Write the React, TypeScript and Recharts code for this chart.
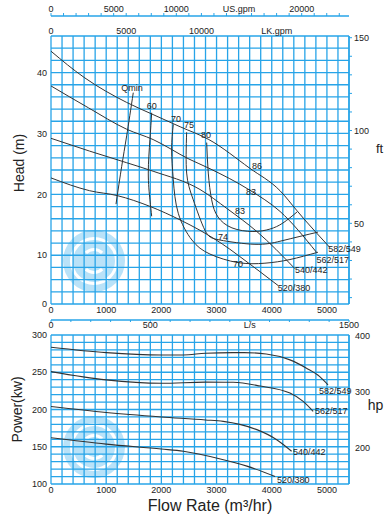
import React from 'react';
import { ComposedChart, Line, XAxis, YAxis, CartesianGrid, ReferenceDot } from 'recharts';

const GRID = '#27a4e8';
const INK = '#333333';
const FONT = '"Liberation Sans", Arial, sans-serif';

// ---------- axis tick values ----------
const FLOW_TICKS = [0, 200, 400, 600, 800, 1000, 1200, 1400, 1600, 1800, 2000, 2200, 2400, 2600, 2800, 3000, 3200, 3400, 3600, 3800, 4000, 4200, 4400, 4600, 4800, 5000, 5200, 5400];
const FLOW_LABELS = [0, 1000, 2000, 3000, 4000, 5000];
const HEAD_M_TICKS = [2, 4, 6, 8, 10, 12, 14, 16, 18, 20, 22, 24, 26, 28, 30, 32, 34, 36, 38, 40, 42, 44, 46];
const HEAD_M_LABELS: Record<number, string> = { 2: '0', 10: '10', 20: '20', 30: '30', 40: '40' };
const HEAD_FT_TICKS = [10, 20, 30, 40, 50, 60, 70, 80, 90, 100, 110, 120, 130, 140, 150];
const HEAD_FT_LABELS = [50, 100, 150];
const LS_TICKS = [0, 100, 200, 300, 400, 500, 600, 700, 800, 900, 1000, 1100, 1200, 1300, 1400, 1500];
const LS_LABELS: Record<number, string> = { 0: '0', 500: '500', 1000: 'L/s', 1500: '1500' };
const US_TICKS = [0, 1000, 2000, 3000, 4000, 5000, 6000, 7000, 8000, 9000, 10000, 11000, 12000, 13000, 14000, 15000, 16000, 17000, 18000, 19000, 20000, 21000, 22000, 23000];
const US_LABELS: Record<number, string> = { 0: '0', 5000: '5000', 10000: '10000', 15000: 'US.gpm', 20000: '20000' };
const LK_TICKS = [0, 5000, 10000, 15000];
const LK_LABELS: Record<number, string> = { 0: '0', 5000: '5000', 10000: '10000', 15000: 'LK.gpm' };
const KW_TICKS = [100, 110, 120, 130, 140, 150, 160, 170, 180, 190, 200, 210, 220, 230, 240, 250, 260, 270, 280, 290, 300];
const KW_LABELS = [100, 150, 200, 250, 300];
const HP_TICKS = [200, 300, 400];

const FLOW_MAX = 5400;
const M_TO_FT = 0.3048;
const KW_PER_HP = 0.7457;
const US_GPM_PER_M3H = 4.4029;
const LK_GPM_PER_M3H = 3.6662;

// ---------- head curves (q m3/h, h m) ----------
const H_582_549 = [
  { q: 0, h: 43.5 }, { q: 600, h: 39.2 }, { q: 1370, h: 35.1 }, { q: 1850, h: 33.1 }, { q: 2340, h: 31.1 },
  { q: 2860, h: 29.0 }, { q: 3600, h: 24.3 }, { q: 4150, h: 20.6 }, { q: 4450, h: 17.4 }, { q: 4600, h: 15.8 },
  { q: 5000, h: 11.8 }, { q: 5050, h: 11.3 },
];
const H_562_517 = [
  { q: 0, h: 37.8 }, { q: 680, h: 34.2 }, { q: 1370, h: 30.7 }, { q: 1850, h: 29.0 }, { q: 2500, h: 25.8 },
  { q: 2860, h: 24.3 }, { q: 3600, h: 20.7 }, { q: 4150, h: 17.2 }, { q: 4810, h: 10.5 },
];
const H_540_442 = [
  { q: 0, h: 29.2 }, { q: 700, h: 27.1 }, { q: 1370, h: 25.2 }, { q: 1850, h: 23.8 }, { q: 2700, h: 20.8 },
  { q: 3200, h: 17.6 }, { q: 3730, h: 13.9 }, { q: 4420, h: 7.8 },
];
const H_520_380 = [
  { q: 0, h: 22.7 }, { q: 700, h: 20.6 }, { q: 1200, h: 19.8 }, { q: 1800, h: 18.0 }, { q: 2340, h: 15.8 },
  { q: 2700, h: 14.1 }, { q: 3240, h: 11.0 }, { q: 3420, h: 9.8 }, { q: 4120, h: 5.0 },
];

// ---------- efficiency / Qmin curves ----------
const E_QMIN = [{ q: 1491, h: 36.7 }, { q: 1371, h: 29.6 }, { q: 1281, h: 24.6 }, { q: 1178, h: 18.4 }];
const E_60 = [{ q: 1824, h: 33.4 }, { q: 1793, h: 29.0 }, { q: 1763, h: 23.5 }, { q: 1793, h: 19.1 }, { q: 1824, h: 16.4 }];
const E_70 = [
  { q: 2216, h: 31.5 }, { q: 2186, h: 27.4 }, { q: 2216, h: 22.4 }, { q: 2306, h: 16.9 }, { q: 2554, h: 12.5 },
  { q: 2880, h: 10.2 }, { q: 3388, h: 8.8 }, { q: 3877, h: 8.7 }, { q: 4330, h: 9.3 }, { q: 4837, h: 10.5 },
];
const E_75 = [
  { q: 2458, h: 30.2 }, { q: 2458, h: 23.5 }, { q: 2578, h: 19.1 }, { q: 2790, h: 14.1 }, { q: 3062, h: 12.5 },
  { q: 3696, h: 11.8 }, { q: 4149, h: 12.3 }, { q: 4511, h: 13.1 }, { q: 4837, h: 13.8 },
];
const E_80 = [
  { q: 2821, h: 28.5 }, { q: 2850, h: 23.5 }, { q: 2911, h: 19.1 }, { q: 3025, h: 16.3 }, { q: 3279, h: 14.5 },
  { q: 3659, h: 13.9 }, { q: 3967, h: 14.3 }, { q: 4203, h: 15.3 }, { q: 4457, h: 17.1 },
];

const EFF_LABELS = [
  { q: 1467, h: 37.4, text: 'Qmin' }, { q: 1824, h: 34.5, text: '60' }, { q: 2264, h: 32.3, text: '70' },
  { q: 2500, h: 31.4, text: '75' }, { q: 2808, h: 29.8, text: '80' }, { q: 3732, h: 24.7, text: '86' },
  { q: 3623, h: 20.4, text: '83' }, { q: 3424, h: 17.2, text: '83' }, { q: 3116, h: 13.0, text: '74' },
  { q: 3388, h: 8.5, text: '70' },
];
const HEAD_CURVE_LABELS = [
  { q: 5024, h: 11.0, text: '582/549' }, { q: 4813, h: 9.3, text: '562/517' },
  { q: 4420, h: 7.6, text: '540/442' }, { q: 4107, h: 4.7, text: '520/380' },
];

// ---------- power curves (q m3/h, p kW) ----------
const P_582_549 = [
  { q: 0, p: 283.5 }, { q: 1000, p: 276.3 }, { q: 2000, p: 273.2 }, { q: 2400, p: 273.2 }, { q: 2800, p: 275.5 },
  { q: 3300, p: 276.3 }, { q: 3500, p: 276.3 }, { q: 3900, p: 274.6 }, { q: 4330, p: 266.6 }, { q: 4630, p: 255.5 },
  { q: 4870, p: 244.2 }, { q: 5020, p: 233.1 },
];
const P_562_517 = [
  { q: 0, p: 250.9 }, { q: 1000, p: 239.8 }, { q: 2000, p: 235.3 }, { q: 2800, p: 236.7 }, { q: 3300, p: 236.5 },
  { q: 3790, p: 231.5 }, { q: 4330, p: 222 }, { q: 4570, p: 210.8 }, { q: 4750, p: 197.4 },
];
const P_540_442 = [
  { q: 0, p: 204 }, { q: 1000, p: 196 }, { q: 2000, p: 190 }, { q: 2800, p: 186 }, { q: 3120, p: 184 },
  { q: 3420, p: 180 }, { q: 3730, p: 173 }, { q: 4090, p: 159.5 }, { q: 4360, p: 144 },
];
const P_520_380 = [
  { q: 0, p: 162 }, { q: 1000, p: 153.5 }, { q: 2000, p: 147 }, { q: 2400, p: 144 }, { q: 3050, p: 134 },
  { q: 3550, p: 124 }, { q: 4060, p: 110 },
];
const POWER_CURVE_LABELS = [
  { q: 4855, p: 225.1, text: '582/549' }, { q: 4783, p: 198.3, text: '562/517' },
  { q: 4384, p: 142.5, text: '540/442' }, { q: 4094, p: 106, text: '520/380' },
];

const tickStyle = { fontSize: 9, fill: '#222', fontFamily: FONT };

const centerText = (text: string) => (props: any) => (
  <text x={props.cx} y={props.cy} textAnchor="middle" dominantBaseline="central" fontSize={9} fill="#222" fontFamily={FONT}>{text}</text>
);
const startText = (text: string) => (props: any) => (
  <text x={props.cx} y={props.cy} textAnchor="start" dominantBaseline="central" fontSize={9} fill="#222" fontFamily={FONT}>{text}</text>
);

const Watermark = ({ left, top }: { left: number; top: number }) => (
  <div style={{ position: 'absolute', left, top, width: 62, height: 62, borderRadius: '50%', background: '#b9e2f8' }}>
    <div style={{ position: 'absolute', left: 7, top: 7, width: 42, height: 42, borderRadius: '50%', border: '3px solid #ffffff' }} />
    <div style={{ position: 'absolute', left: 18, top: 18, width: 20, height: 20, borderRadius: '50%', border: '3px solid #ffffff', borderColor: '#fff transparent #fff transparent' }} />
  </div>
);

// axis ids: "f" = flow (m3/h), "s" = L/s, "g" = LK gpm, "u" = US gpm
const headLine = (data: any[], key: string, type: any = 'monotone') => (
  <Line key={key} data={data} dataKey="h" xAxisId="f" yAxisId="m" type={type} stroke={INK} strokeWidth={1} dot={false} isAnimationActive={false} />
);
const powerLine = (data: any[], key: string) => (
  <Line key={key} data={data} dataKey="p" xAxisId="f" yAxisId="kw" type="monotone" stroke={INK} strokeWidth={1.1} dot={false} isAnimationActive={false} />
);

export default function App() {
  return (
    <div style={{ position: 'absolute', left: 0, top: 0, width: 390, height: 517, background: '#fff', fontFamily: FONT }}>
      <Watermark left={63} top={230} />
      <Watermark left={63} top={416} />
      <div style={{ position: 'absolute', left: 0, top: 0 }}>
        <ComposedChart width={390} height={336} data={H_582_549} margin={{ top: 0, right: 0, bottom: 0, left: 0 }}>
          <CartesianGrid xAxisId="f" yAxisId="m" stroke={GRID} strokeWidth={1.3} />
          <XAxis xAxisId="f" dataKey="q" type="number" domain={[0, FLOW_MAX]} allowDataOverflow ticks={FLOW_TICKS} interval={0}
            tickFormatter={(v: number) => (FLOW_LABELS.includes(v) ? String(v) : '')}
            axisLine={false} tickLine={false} tickSize={0} tickMargin={3} height={16} tick={tickStyle} />
          <XAxis xAxisId="s" dataKey="q" type="number" domain={[0, FLOW_MAX / 3.6]} allowDataOverflow ticks={LS_TICKS} interval={0}
            tickFormatter={(v: number) => LS_LABELS[v] ?? ''}
            axisLine={{ stroke: GRID, strokeWidth: 1.5 }} tickLine={{ stroke: GRID }} tickSize={2} tickMargin={0} height={16} tick={tickStyle} />
          <XAxis xAxisId="g" dataKey="q" orientation="top" type="number" domain={[0, FLOW_MAX * LK_GPM_PER_M3H]} allowDataOverflow ticks={LK_TICKS} interval={0}
            tickFormatter={(v: number) => LK_LABELS[v] ?? ''}
            axisLine={false} tickLine={false} tickSize={0} tickMargin={2} height={20} tick={tickStyle} />
          <XAxis xAxisId="u" dataKey="q" orientation="top" type="number" domain={[0, FLOW_MAX * US_GPM_PER_M3H]} allowDataOverflow ticks={US_TICKS} interval={0}
            tickFormatter={(v: number) => US_LABELS[v] ?? ''}
            axisLine={{ stroke: GRID, strokeWidth: 1.5 }} tickLine={{ stroke: GRID }} tickSize={3} tickMargin={1} height={16} tick={tickStyle} />
          <YAxis yAxisId="m" dataKey="h" type="number" domain={[2, 46]} allowDataOverflow ticks={HEAD_M_TICKS} interval={0}
            tickFormatter={(v: number) => HEAD_M_LABELS[v] ?? ''}
            axisLine={false} tickLine={false} tickSize={0} tickMargin={4} width={51} tick={tickStyle}
            label={{ value: 'Head (m)', angle: -90, position: 'center', dx: -6, dy: -7, fontSize: 14, fill: '#222', fontFamily: FONT }} />
          <YAxis yAxisId="ft" orientation="right" type="number" domain={[2 / M_TO_FT, 46 / M_TO_FT]} allowDataOverflow ticks={HEAD_FT_TICKS} interval={0}
            tickFormatter={(v: number) => (HEAD_FT_LABELS.includes(v) ? String(v) : '')}
            axisLine={{ stroke: GRID, strokeWidth: 1.5 }} tickLine={{ stroke: GRID }} tickSize={3} tickMargin={2} width={41} tick={tickStyle}
            label={{ value: 'ft', position: 'center', dx: 10, dy: -22, fontSize: 13, fill: '#222', fontFamily: FONT }} />

          {headLine(H_582_549, 'h582')}
          {headLine(H_562_517, 'h562')}
          {headLine(H_540_442, 'h540')}
          {headLine(H_520_380, 'h520')}
          {headLine(E_QMIN, 'eq', 'natural')}
          {headLine(E_60, 'e60', 'natural')}
          {headLine(E_70, 'e70', 'natural')}
          {headLine(E_75, 'e75', 'natural')}
          {headLine(E_80, 'e80', 'natural')}

          {EFF_LABELS.map((l, i) => (
            <ReferenceDot key={'el' + i} xAxisId="f" yAxisId="m" x={l.q} y={l.h} r={0} shape={centerText(l.text)} ifOverflow="visible" />
          ))}
          {HEAD_CURVE_LABELS.map((l, i) => (
            <ReferenceDot key={'hl' + i} xAxisId="f" yAxisId="m" x={l.q} y={l.h} r={0} shape={startText(l.text)} ifOverflow="visible" />
          ))}
        </ComposedChart>
      </div>
      <div style={{ position: 'absolute', left: 0, top: 330 }}>
        <ComposedChart width={390} height={187} margin={{ top: 5, right: 0, bottom: 0, left: 0 }}>
          <CartesianGrid xAxisId="f" yAxisId="kw" stroke={GRID} strokeWidth={1.3} />
          <XAxis xAxisId="f" dataKey="q" type="number" domain={[0, FLOW_MAX]} allowDataOverflow ticks={FLOW_TICKS} interval={0}
            tickFormatter={(v: number) => (FLOW_LABELS.includes(v) ? String(v) : '')}
            axisLine={false} tickLine={false} tickSize={0} tickMargin={3} height={33} tick={tickStyle}
            label={{ value: 'Flow Rate (m³/hr)', position: 'center', dx: 10, dy: 5, fontSize: 16, fill: '#222', fontFamily: FONT }} />
          <YAxis yAxisId="kw" dataKey="p" type="number" domain={[100, 300]} allowDataOverflow ticks={KW_TICKS} interval={0}
            tickFormatter={(v: number) => (KW_LABELS.includes(v) ? String(v) : '')}
            axisLine={false} tickLine={false} tickSize={0} tickMargin={4} width={51} tick={tickStyle}
            label={{ value: 'Power(kw)', angle: -90, position: 'center', dx: -8, dy: 0, fontSize: 14, fill: '#222', fontFamily: FONT }} />
          <YAxis yAxisId="hp" orientation="right" type="number" domain={[100 / KW_PER_HP, 300 / KW_PER_HP]} allowDataOverflow ticks={HP_TICKS} interval={0}
            axisLine={{ stroke: GRID, strokeWidth: 1.5 }} tickLine={false} tickSize={0} tickMargin={6} width={41} tick={tickStyle}
            label={{ value: 'hp', position: 'center', dx: 6, dy: -4, fontSize: 14, fill: '#222', fontFamily: FONT }} />

          {powerLine(P_582_549, 'p582')}
          {powerLine(P_562_517, 'p562')}
          {powerLine(P_540_442, 'p540')}
          {powerLine(P_520_380, 'p520')}

          {POWER_CURVE_LABELS.map((l, i) => (
            <ReferenceDot key={'pl' + i} xAxisId="f" yAxisId="kw" x={l.q} y={l.p} r={0} shape={startText(l.text)} ifOverflow="visible" />
          ))}
        </ComposedChart>
      </div>
    </div>
  );
}
